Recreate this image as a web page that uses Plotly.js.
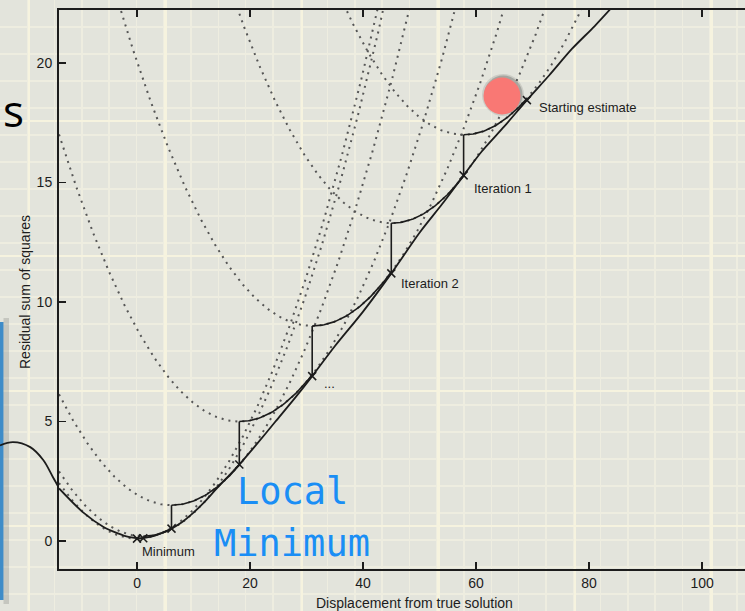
<!DOCTYPE html>
<html>
<head>
<meta charset="utf-8">
<script src="https://cdn.plot.ly/plotly-3.0.1.min.js"></script>
<style>html,body{margin:0;padding:0;background:#e3e4dc;}</style>
</head>
<body>
<div id="chart" style="width:745px;height:611px;"></div>
<script>
// ---- residual sum of squares curve (solid) ----
const curveX = [-13.8, -9.6, -6, -3.5, -1.5, 0.5, 2.3, 4, 6.1, 8, 9.9, 12, 14.2, 18.1, 21, 24.5, 28, 31, 35, 40, 45, 50, 54, 57.8, 61, 65, 69, 73, 77, 81, 84.5];
const curveY = [2.2, 1.21, 0.6, 0.33, 0.17, 0.11, 0.17, 0.3, 0.52, 0.8, 1.17, 1.65, 2.22, 3.2, 4.0, 5.0, 6.0, 6.9, 8.15, 9.6, 11.2, 12.9, 14.1, 15.3, 16.3, 17.35, 18.45, 19.5, 20.6, 21.55, 22.45];
// hand-drawn continuation left of the axis
const humpX = [-24.25, -21.95, -18.9, -16.6, -14.9, -13.8];
const humpY = [4.0, 4.14, 3.93, 3.39, 2.68, 2.22];
// iterates on the curve
const iterX = [69.0, 57.8, 45.0, 31.0, 18.1, 6.1, 1.1, 0.0];
const iterY = [18.45, 15.3, 11.2, 6.9, 3.2, 0.52, 0.12, 0.1];
// Gauss-Newton parabola minima (at x = next iterate) and curvatures
const vertexY = [17.0, 13.3, 9.0, 5.0, 1.5, 0.2, 0.1];
const curvature = [0.0121, 0.0121, 0.0115, 0.0118, 0.0117, 0.0122, 0.0122];
// ticks
const xTicks = [0, 20, 40, 60, 80, 100];
const yTicks = [0, 5, 10, 15, 20];

const XMIN = -13.81, XMAX = 107.6, YMIN = -1.17, YMAX = 22.22;
const W = 745, H = 611;
const axL = 59, axB = 569, axT = 10;

// build parabola traces
const dotX = [], dotY = [], arcX = [], arcY = [];
for (let k = 0; k < vertexY.length; k++) {
  const v = iterX[k + 1], m = vertexY[k], a = curvature[k];
  for (let x = XMIN; x <= XMAX; x += 0.2) { dotX.push(x); dotY.push(m + a * (x - v) * (x - v)); }
  dotX.push(null); dotY.push(null);
  const x0 = iterX[k];
  const n = 40;
  for (let i = 0; i <= n; i++) { const x = v + (x0 - v) * i / n; arcX.push(x); arcY.push(m + a * (x - v) * (x - v)); }
  arcX.push(null); arcY.push(null);
  arcX.push(v, v, null); arcY.push(m, iterY[k + 1], null);
}

const font = 'Liberation Sans, Arial, Helvetica, sans-serif';
const ink = '#1c1c1c';

const traces = [
  {x: [0], y: [0], xaxis: 'x', yaxis: 'y', mode: 'markers', marker: {opacity: 0}, hoverinfo: 'skip', showlegend: false},
  {x: dotX, y: dotY, xaxis: 'x2', yaxis: 'y2', mode: 'lines', line: {color: '#555', width: 2, dash: '2px,5px'}, hoverinfo: 'skip', showlegend: false},
  {x: curveX, y: curveY, xaxis: 'x2', yaxis: 'y2', mode: 'lines', line: {color: ink, width: 1.8, shape: 'spline', smoothing: 0.8}, showlegend: false},
  {x: arcX, y: arcY, xaxis: 'x2', yaxis: 'y2', mode: 'lines', line: {color: ink, width: 1.6}, showlegend: false},
  {x: iterX, y: iterY, xaxis: 'x2', yaxis: 'y2', mode: 'markers', marker: {symbol: 'x-thin', size: 8, line: {width: 1.5, color: ink}}, showlegend: false},
  {x: humpX, y: humpY, xaxis: 'x3', yaxis: 'y3', mode: 'lines', line: {color: ink, width: 1.8, shape: 'spline'}, showlegend: false}
];

const yDom = [(H - axB) / H, 1 - axT / H];
const xDom = [axL / W, 1];
const pxPerX = (W - axL) / (XMAX - XMIN);

const layout = {
  width: W, height: H,
  margin: {l: 0, r: 0, t: 0, b: 0},
  paper_bgcolor: '#e3e4dc', plot_bgcolor: 'rgba(0,0,0,0)',
  showlegend: false,
  xaxis: {domain: [0, 1], range: [0, W], anchor: 'y', showticklabels: false, ticks: '', zeroline: false, showline: false,
    tick0: 29, dtick: 136.5, showgrid: true, gridcolor: '#f6f3df', gridwidth: 2.5,
    minor: {dtick: 27.3, showgrid: true, gridcolor: '#eeede0', gridwidth: 1.5}, fixedrange: true},
  yaxis: {domain: [0, 1], range: [H, 0], anchor: 'x', showticklabels: false, ticks: '', zeroline: false, showline: false,
    tick0: 121, dtick: 135, showgrid: true, gridcolor: '#f6f3df', gridwidth: 2.5,
    minor: {dtick: 27, showgrid: true, gridcolor: '#eeede0', gridwidth: 1.5}, fixedrange: true},
  xaxis2: {domain: xDom, range: [XMIN, XMAX], anchor: 'y2', tickvals: xTicks, ticks: 'inside', ticklen: 7, tickwidth: 1.5, tickcolor: ink,
    showline: true, linecolor: ink, linewidth: 2, mirror: 'ticks', showgrid: false, zeroline: false,
    tickfont: {family: font, size: 14, color: ink}},
  yaxis2: {domain: yDom, range: [YMIN, YMAX], anchor: 'x2', tickvals: yTicks, ticks: 'inside', ticklen: 7, tickwidth: 1.5, tickcolor: ink,
    showline: true, linecolor: ink, linewidth: 2, mirror: false, showgrid: false, zeroline: false, ticklabelstandoff: 2,
    tickfont: {family: font, size: 14, color: ink}},
  xaxis3: {domain: [0, axL / W], range: [XMIN - axL / pxPerX, XMIN], anchor: 'y3', visible: false},
  yaxis3: {domain: yDom, range: [YMIN, YMAX], anchor: 'x3', visible: false},
  shapes: [
    {type: 'rect', xref: 'x', yref: 'y', x0: -10, x1: 3.5, y0: 322, y1: 600, fillcolor: '#3f8cc8', line: {width: 0}, layer: 'between'},
    {type: 'rect', xref: 'x', yref: 'y', x0: 3.5, x1: 9, y0: 318, y1: 604, fillcolor: 'rgba(90,90,90,0.22)', line: {width: 0}, layer: 'between'},
    {type: 'circle', xref: 'x', yref: 'y', x0: 482, x1: 524, y0: 74, y1: 116, fillcolor: 'rgba(30,30,30,0.12)', line: {width: 0}, layer: 'above'},
    {type: 'circle', xref: 'x', yref: 'y', x0: 484, x1: 522.5, y0: 75.5, y1: 114, fillcolor: 'rgba(30,30,30,0.22)', line: {width: 0}, layer: 'above'},
    {type: 'circle', xref: 'x', yref: 'y', x0: 483.5, x1: 520.5, y0: 77.5, y1: 114.5, fillcolor: '#f97874', line: {width: 0}, layer: 'above'}
  ],
  annotations: [
    {xref: 'x', yref: 'y', x: 537, y: 107, text: 'Starting estimate', xanchor: 'left', showarrow: false, font: {family: font, size: 13, color: ink}},
    {xref: 'x', yref: 'y', x: 472, y: 188, text: 'Iteration 1', xanchor: 'left', showarrow: false, font: {family: font, size: 13, color: ink}},
    {xref: 'x', yref: 'y', x: 399, y: 283, text: 'Iteration 2', xanchor: 'left', showarrow: false, font: {family: font, size: 13, color: ink}},
    {xref: 'x', yref: 'y', x: 322, y: 383, text: '...', xanchor: 'left', showarrow: false, font: {family: font, size: 13, color: ink}},
    {xref: 'x', yref: 'y', x: 140, y: 551, text: 'Minimum', xanchor: 'left', showarrow: false, font: {family: font, size: 13, color: ink}},
    {xref: 'x', yref: 'y', x: 414, y: 603, text: 'Displacement from true solution', showarrow: false, font: {family: font, size: 14, color: ink}},
    {xref: 'x', yref: 'y', x: 25, y: 292, text: 'Residual sum of squares', textangle: -90, showarrow: false, font: {family: font, size: 14, color: ink}},
    {xref: 'x', yref: 'y', x: 0.5, y: 110, text: 's', xanchor: 'left', showarrow: false, font: {family: 'Open Sans, sans-serif', size: 44, color: '#000'}},
    {xref: 'x', yref: 'y', x: 292, y: 491, text: 'Local', showarrow: false, font: {family: 'DejaVu Sans Mono, monospace', size: 37, color: '#1a8ef5'}},
    {xref: 'x', yref: 'y', x: 292, y: 543, text: 'Minimum', showarrow: false, font: {family: 'DejaVu Sans Mono, monospace', size: 37, color: '#1a8ef5'}}
  ]
};

Plotly.newPlot('chart', traces, layout, {displayModeBar: false, staticPlot: true});
</script>
</body>
</html>
